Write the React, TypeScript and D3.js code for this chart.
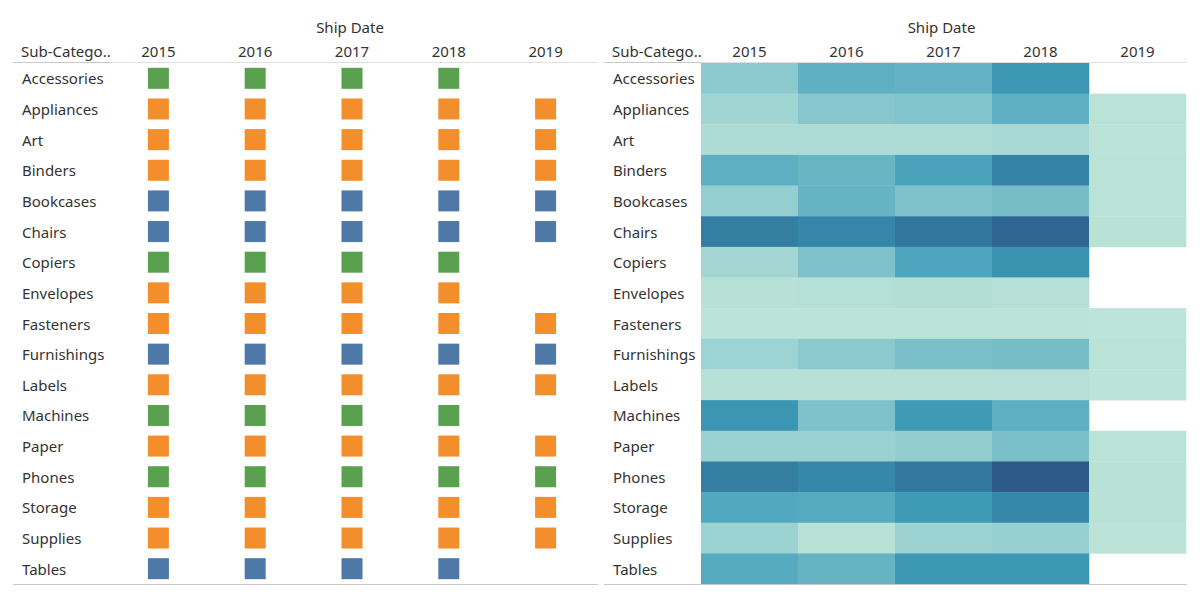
import React from "react";
import * as d3 from "d3";

const subCategories = [
  "Accessories", "Appliances", "Art", "Binders", "Bookcases", "Chairs",
  "Copiers", "Envelopes", "Fasteners", "Furnishings", "Labels", "Machines",
  "Paper", "Phones", "Storage", "Supplies", "Tables",
];
const years = ["2015", "2016", "2017", "2018", "2019"];

// category of each sub-category (drives left chart colour)
const categoryOf = [
  "Technology", "Office Supplies", "Office Supplies", "Office Supplies", "Furniture", "Furniture",
  "Technology", "Office Supplies", "Office Supplies", "Furniture", "Office Supplies", "Technology",
  "Office Supplies", "Technology", "Office Supplies", "Office Supplies", "Furniture",
];
const categories = ["Furniture", "Office Supplies", "Technology"];
const categoryColors = ["#4e79a7", "#f28e2b", "#59a14f"];

// sales (k$) by ship year, null = no orders shipped
const sales: (number | null)[][] = [
  [22, 35, 33, 52, null],   // Accessories
  [14, 24, 25, 35, 1],      // Appliances
  [8, 8, 8, 11, 0.5],       // Art
  [36, 31, 45, 68, 1],      // Binders
  [19, 32, 26, 28, 1],      // Bookcases
  [75, 64, 82, 93, 2],      // Chairs
  [13, 26, 43, 55, null],   // Copiers
  [3, 4, 5, 3.5, null],     // Envelopes
  [0.7, 0.7, 0.7, 0.7, 0.1],// Fasteners
  [16, 22, 27, 28, 1],      // Furnishings
  [3, 3, 3, 3.5, 0.5],      // Labels
  [54, 26, 51, 36, null],   // Machines
  [17, 17, 20, 27, 1],      // Paper
  [75, 62, 80, 100, 1.5],   // Phones
  [41, 39, 51, 62, 1.5],    // Storage
  [16.5, 1.5, 16.5, 18, 0.5], // Supplies
  [39, 32, 52, 52, null],   // Tables
];

const rampStops = [0, 8, 16, 24, 32, 42, 52, 62, 75, 88, 100];
const rampColors = [
  "#bce4d8", "#aedbd5", "#9dd3d2", "#86c6cc", "#66b3c3", "#4fa8be",
  "#3d98b5", "#3588aa", "#347ea2", "#316f98", "#2d5a88",
];

const font = "'Noto Sans', 'Open Sans', sans-serif";
const textColor = "#333333";
const top = 63;
const bottom = 584;

const yScale = d3.scaleBand().domain(subCategories).range([top, bottom]);
const heatColor = d3
  .scaleLinear<string>()
  .domain(rampStops)
  .range(rampColors)
  .clamp(true);
const catColor = d3.scaleOrdinal<string, string>().domain(categories).range(categoryColors);

type PanelProps = {
  x0: number;
  x1: number;
  plotLeft: number;
  kind: "square" | "heat";
};

const Panel = ({ x0, x1, plotLeft, kind }: PanelProps) => {
  const plotRight = kind === "heat" ? x1 - 1 : x1 - 4;
  const xScale = d3.scaleBand().domain(years).range([plotLeft, plotRight]);
  const titleX = (plotLeft + plotRight) / 2 - 2;
  const sq = 21;
  return (
    <g>
      <text x={titleX} y={33} textAnchor="middle" fontSize={15} fill={textColor} fontFamily={font}>
        Ship Date
      </text>
      <text x={x0 + 8} y={57} fontSize={15} fill={textColor} fontFamily={font}>
        Sub-Catego..
      </text>
      {years.map((yr) => (
        <text
          key={yr}
          x={(xScale(yr) ?? 0) + xScale.bandwidth() / 2}
          y={57}
          textAnchor="middle"
          fontSize={15}
          fill={textColor}
          fontFamily={font}
        >
          {yr}
        </text>
      ))}
      {subCategories.map((sc, i) => (
        <g key={sc}>
          <text
            x={x0 + 9}
            y={(yScale(sc) ?? 0) + yScale.bandwidth() / 2 + 6}
            fontSize={15}
            fill={textColor}
            fontFamily={font}
          >
            {sc}
          </text>
          {years.map((yr, j) => {
            const v = sales[i][j];
            if (v === null) return null;
            const bx = xScale(yr) ?? 0;
            const by = yScale(sc) ?? 0;
            if (kind === "heat") {
              return (
                <rect
                  key={yr}
                  x={bx}
                  y={by}
                  width={xScale.bandwidth() + 0.3}
                  height={yScale.bandwidth() + 0.3}
                  fill={heatColor(v)}
                />
              );
            }
            return (
              <rect
                key={yr}
                x={bx + xScale.bandwidth() / 2 - sq / 2}
                y={by + yScale.bandwidth() / 2 - sq / 2}
                width={sq}
                height={sq}
                fill={catColor(categoryOf[i])}
              />
            );
          })}
        </g>
      ))}
      <line x1={x0} x2={x1} y1={62.5} y2={62.5} stroke="#e0e0e0" strokeWidth={1} />
      <line x1={x0} x2={plotLeft} y1={62.5} y2={62.5} stroke="#c8c8c8" strokeWidth={1} />
      <line x1={x0} x2={x1} y1={bottom + 0.5} y2={bottom + 0.5} stroke="#c8c8c8" strokeWidth={1} />
    </g>
  );
};

export default function App() {
  return (
    <svg
      width={1200}
      height={600}
      style={{ position: "absolute", left: 0, top: 0, background: "#fff" }}
    >
      <rect width={1200} height={600} fill="#ffffff" />
      <Panel x0={13} x1={598} plotLeft={110} kind="square" />
      <Panel x0={604} x1={1187} plotLeft={701} kind="heat" />
    </svg>
  );
}
